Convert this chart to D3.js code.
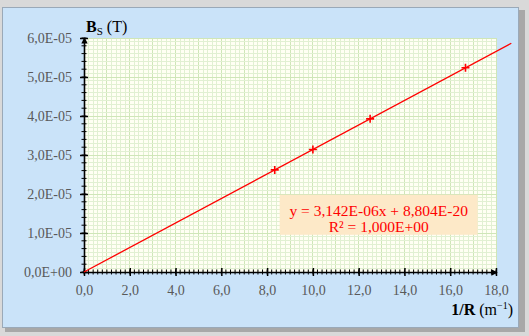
<!DOCTYPE html>
<html>
<head>
<meta charset="utf-8">
<script src="https://cdn.jsdelivr.net/npm/d3@7"></script>
<style>
  html, body { margin: 0; padding: 0; background: #d9d9d9; }
  svg { display: block; font-family: "Liberation Serif", "Times New Roman", serif; }
</style>
</head>
<body>
<svg id="chart"></svg>
<script>
// measured points: 1/R (m^-1) and Bs (T)
const invR = [8.333, 10.0, 12.5, 16.667];
const bS = [2.618e-5, 3.142e-5, 3.927e-5, 5.236e-5];

// linear fit shown on the chart
const slope = 3.142e-6;
const intercept = 8.804e-20;
const trendEnd = 18.67;

const xTicks = [0, 2, 4, 6, 8, 10, 12, 14, 16, 18];
const yTicks = [0, 1e-5, 2e-5, 3e-5, 4e-5, 5e-5, 6e-5];
const equationLines = ['y = 3,142E-06x + 8,804E-20', 'R² = 1,000E+00'];

const width = 529;
const height = 336;
const margin = { top: 38, right: 33, bottom: 64, left: 84 };
const plotW = width - margin.left - margin.right;
const plotH = height - margin.top - margin.bottom;
const serif = '"Liberation Serif", "Times New Roman", serif';

const svg = d3.select('#chart').attr('width', width).attr('height', height);

// outer frame + blue panel
svg.append('rect').attr('width', width).attr('height', height).attr('fill', '#d9d9d9');
svg.append('rect')
  .attr('x', 5).attr('y', 10).attr('width', 520).attr('height', 322)
  .attr('fill', '#a8a8a8');
svg.append('rect')
  .attr('x', 2.5).attr('y', 7.5).attr('width', 516).attr('height', 320)
  .attr('fill', '#cae3f9').attr('stroke', '#9aa9b8').attr('stroke-width', 1);

const x = d3.scaleLinear().domain([0, 18]).range([0, plotW]);
const y = d3.scaleLinear().domain([0, 6e-5]).range([plotH, 0]);

const g = svg.append('g').attr('transform', `translate(${margin.left},${margin.top})`);

g.append('rect').attr('width', plotW).attr('height', plotH).attr('fill', '#fffff3');

// minor grid
const xMinor = d3.range(0, 18.001, 0.2);
const yMinor = d3.range(0, 6.0001e-5, 1e-6);

g.append('g').selectAll('line')
  .data(xMinor)
  .enter().append('line')
  .attr('x1', d => x(d)).attr('x2', d => x(d))
  .attr('y1', 0).attr('y2', plotH)
  .attr('stroke', d => Math.abs(d - Math.round(d)) < 1e-6 ? '#cfe6b8' : '#e1f0d2')
  .attr('stroke-width', 1)
  .attr('shape-rendering', 'crispEdges');

g.append('g').selectAll('line')
  .data(yMinor)
  .enter().append('line')
  .attr('x1', 0).attr('x2', plotW)
  .attr('y1', d => y(d)).attr('y2', d => y(d))
  .attr('stroke', (d, i) => i % 10 === 0 ? '#cfe6b8' : '#e1f0d2')
  .attr('stroke-width', 1)
  .attr('shape-rendering', 'crispEdges');

// arrow marker for axis ends
svg.append('defs').append('marker')
  .attr('id', 'arrow')
  .attr('viewBox', '0 0 10 10')
  .attr('refX', 8).attr('refY', 5)
  .attr('markerWidth', 4).attr('markerHeight', 4)
  .attr('orient', 'auto')
  .append('path').attr('d', 'M0,0L10,5L0,10z').attr('fill', '#000');

const fmtSci = v => {
  if (v === 0) return '0,0E+00';
  const [m, e] = v.toExponential(1).split('e');
  const n = parseInt(e, 10);
  return m.replace('.', ',') + 'E' + (n < 0 ? '-' : '+') + String(Math.abs(n)).padStart(2, '0');
};
const fmtX = v => v.toFixed(1).replace('.', ',');

// minor ticks (cross style)
g.append('g').selectAll('line')
  .data(d3.range(0, 18.001, 0.2))
  .enter().append('line')
  .attr('x1', d => x(d)).attr('x2', d => x(d))
  .attr('y1', plotH - 2.5).attr('y2', plotH + 2.5)
  .attr('stroke', '#000').attr('stroke-width', 1);

g.append('g').selectAll('line')
  .data(d3.range(0, 6.0001e-5, 2e-6))
  .enter().append('line')
  .attr('x1', -2.5).attr('x2', 2.5)
  .attr('y1', d => y(d)).attr('y2', d => y(d))
  .attr('stroke', '#000').attr('stroke-width', 1);

const xAxis = g.append('g')
  .attr('transform', `translate(0,${plotH})`)
  .call(d3.axisBottom(x).tickValues(xTicks).tickFormat(fmtX).tickSizeInner(4).tickSizeOuter(0).tickPadding(9));
xAxis.select('.domain').attr('stroke-width', 1.6).attr('marker-end', 'url(#arrow)');
xAxis.selectAll('.tick line').attr('y1', -4).attr('stroke-width', 1.5);
xAxis.selectAll('.tick text')
  .attr('fill', '#595959').style('font-size', '14px').style('font-family', serif);

const yAxis = g.append('g')
  .call(d3.axisLeft(y).tickValues(yTicks).tickFormat(fmtSci).tickSizeInner(4).tickSizeOuter(0).tickPadding(8));
yAxis.select('.domain').attr('stroke-width', 1.6).attr('marker-end', 'url(#arrow)');
yAxis.selectAll('.tick line').attr('x1', 4).attr('stroke-width', 1.5);
yAxis.selectAll('.tick text')
  .attr('fill', '#595959').style('font-size', '14px').style('font-family', serif);

// trend line from fit
const line = d3.line().x(d => x(d)).y(d => y(slope * d + intercept));
g.append('path')
  .datum([0, trendEnd])
  .attr('d', line)
  .attr('fill', 'none')
  .attr('stroke', '#ff0000')
  .attr('stroke-width', 1.3);

// data markers (+)
const pts = invR.map((v, i) => ({ x: v, y: bS[i] }));
const marks = g.append('g').selectAll('g')
  .data(pts)
  .enter().append('g')
  .attr('transform', d => `translate(${x(d.x)},${y(d.y)})`);
marks.append('path')
  .attr('d', 'M-4,0H4M0,-4V4')
  .attr('stroke', '#ff0000')
  .attr('stroke-width', 1.6);

// equation box
const boxX = x(8.55), boxY = y(1.98e-5);
const boxW = x(17.2) - boxX;
g.append('rect')
  .attr('x', boxX).attr('y', boxY)
  .attr('width', boxW).attr('height', 40)
  .attr('fill', '#fde9c8');
g.append('g').selectAll('text')
  .data(equationLines)
  .enter().append('text')
  .attr('x', boxX + boxW / 2)
  .attr('y', (d, i) => boxY + 21 + i * 16)
  .attr('text-anchor', 'middle')
  .attr('fill', '#ff0000')
  .style('font-size', '15.5px')
  .text(d => d);

// axis titles
const yTitle = svg.append('text')
  .attr('x', 86).attr('y', 32)
  .attr('fill', '#000')
  .style('font-size', '16px');
yTitle.append('tspan').attr('font-weight', 'bold').text('B');
yTitle.append('tspan').attr('font-size', '11px').attr('dy', 3).text('S');
yTitle.append('tspan').attr('dy', -3).text(' (T)');

const xTitle = svg.append('text')
  .attr('x', 513).attr('y', 315)
  .attr('text-anchor', 'end')
  .attr('fill', '#000')
  .style('font-size', '16px');
xTitle.append('tspan').attr('font-weight', 'bold').text('1/R');
xTitle.append('tspan').text(' (m');
xTitle.append('tspan').attr('font-size', '10px').attr('dy', -6).text('−1');
xTitle.append('tspan').attr('dy', 6).text(')');
</script>
</body>
</html>
